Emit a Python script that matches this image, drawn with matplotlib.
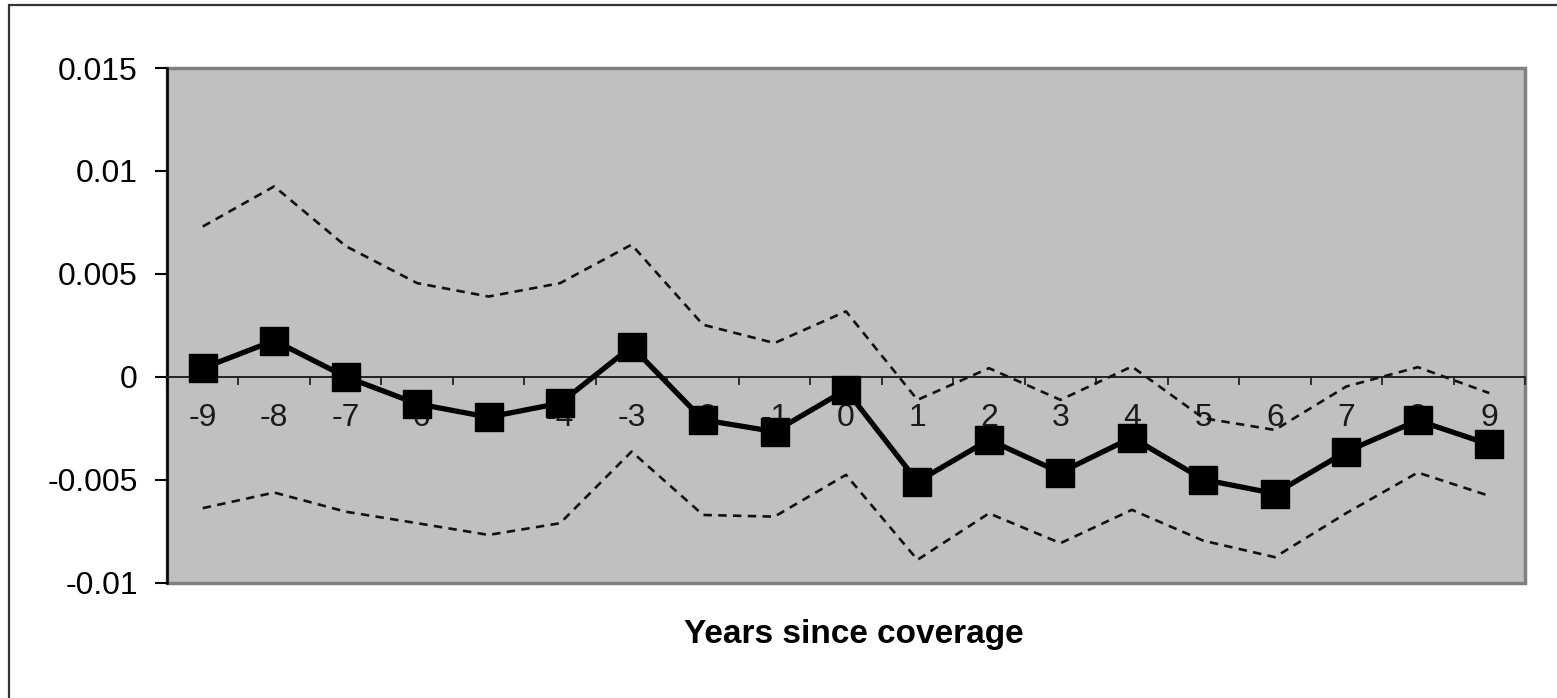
import numpy as np
import matplotlib
matplotlib.use("Agg")
import matplotlib.pyplot as plt
from matplotlib.patches import Rectangle
from matplotlib.ticker import FixedLocator, FuncFormatter

# data
years = [-9, -8, -7, -6, -5, -4, -3, -2, -1, 0, 1, 2, 3, 4, 5, 6, 7, 8, 9]
estimate = [0.00042, 0.00176, 0.0000, -0.00131, -0.00196, -0.00128, 0.00147, -0.00209, -0.00266, -0.00063,
            -0.00509, -0.00306, -0.00465, -0.00295, -0.00499, -0.00567, -0.00363, -0.00212, -0.00328]
upper = [0.00730, 0.00925, 0.00635, 0.00455, 0.00390, 0.00455, 0.00642, 0.00253, 0.00164, 0.00318,
         -0.00112, 0.00042, -0.00112, 0.00050, -0.00201, -0.00258, -0.00047, 0.00047, -0.00079]
lower = [-0.00638, -0.00562, -0.00655, -0.00711, -0.00768, -0.00711, -0.00363, -0.00671, -0.00679, -0.00476,
         -0.00889, -0.00663, -0.00808, -0.00646, -0.00796, -0.00876, -0.00662, -0.00465, -0.00578]
y_ticks = [-0.01, -0.005, 0, 0.005, 0.01, 0.015]

plt.rcParams['font.family'] = ['Liberation Sans', 'DejaVu Sans']

W, H = 1557, 698
fig = plt.figure(figsize=(W / 100, H / 100), dpi=100)
ax = fig.add_axes([167 / W, 1 - 582.7 / H, (1525 - 167) / W, (582.7 - 68) / H])

# outer chart frame (only top and left edges visible in the picture)
fig.patches.append(Rectangle((9 / W, -0.1), 1.2, 1 - 5 / H + 0.1, transform=fig.transFigure,
                             fill=False, edgecolor='#333333', linewidth=1.6))

ax.set_facecolor('#c0c0c0')
ax.patch.set_edgecolor('#808080')
ax.patch.set_linewidth(2.5)

ax.plot(years, upper, color='#111111', linewidth=1.9, linestyle=(0, (3.2, 2.4)), zorder=3)
ax.plot(years, lower, color='#111111', linewidth=1.9, linestyle=(0, (3.2, 2.4)), zorder=3)
ax.plot(years, estimate, color='black', linewidth=3.8, marker='s', markersize=19.5,
        markerfacecolor='black', markeredgecolor='black', zorder=4)

ax.set_xlim(-9.5, 9.5)
ax.set_ylim(-0.01, 0.015)

# y axis
ax.set_yticks(y_ticks)
ax.yaxis.set_major_formatter(FuncFormatter(lambda v, p: '%g' % round(v, 4)))
ax.tick_params(axis='y', direction='out', length=9, width=1.5, pad=12, labelsize=23, colors='black')
ax.spines['left'].set_color('black')
ax.spines['left'].set_linewidth(1.8)
ax.spines['top'].set_visible(False)
ax.spines['right'].set_visible(False)

# x axis drawn on the zero line, ticks between categories
ax.spines['bottom'].set_position(('data', 0))
ax.spines['bottom'].set_color('#222222')
ax.spines['bottom'].set_linewidth(1.4)
ax.xaxis.set_major_locator(FixedLocator(np.arange(-9.5, 9.6, 1)))
ax.xaxis.set_major_formatter(FuncFormatter(lambda v, p: ''))
ax.xaxis.set_minor_locator(FixedLocator(years))
ax.xaxis.set_minor_formatter(FuncFormatter(lambda v, p: '%d' % round(v)))
ax.tick_params(axis='x', which='major', direction='out', length=6, width=1.3, color='#222222')
ax.tick_params(axis='x', which='minor', length=0, pad=19, labelsize=23, labelcolor='#1a1a1a')

fig.text((167 + 1525) / 2 / W + 8 / W, 1 - 635 / H, 'Years since coverage', ha='center', va='center',
         fontsize=24, fontweight='bold')

fig.savefig('out.png', dpi=100, facecolor='white')
